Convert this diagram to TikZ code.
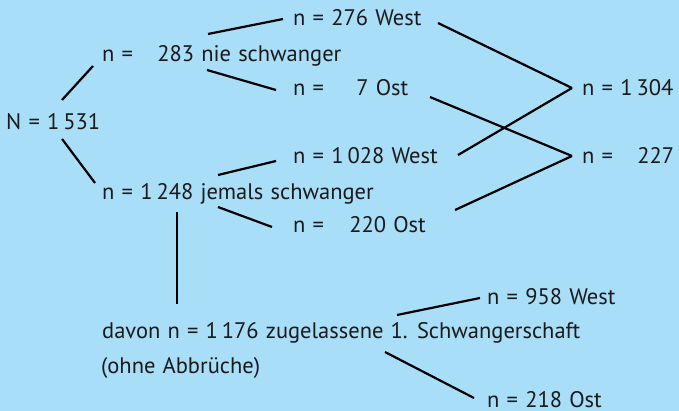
\documentclass[tikz,border=0pt]{standalone}
\usepackage{fontspec}
\setmainfont{PT Sans}[WordSpace=1.2]
\usepackage{tikz}

\definecolor{skyback}{RGB}{169,222,249}
\definecolor{inkdark}{RGB}{26,26,26}

\tikzset{
  lbl/.style={draw=none, inner sep=0pt, anchor=base west, text=inkdark,
    font=\fontsize{22.5}{26}\selectfont},
  tie/.style={line width=2.2pt, color=black}
}

\begin{document}
\begin{tikzpicture}[x=1pt, y=-1pt]

\fill[skyback] (0,0) rectangle (679,411);
\useasboundingbox (0,0) rectangle (679,411);

\node [lbl] (N) at (6,130) {N = 1\hspace{4pt}531};

\node [lbl] (n283) at (102,62) {n =\hspace{17pt} 283 nie schwanger};
\node [lbl] (n1248) at (102,200) {n = 1\hspace{4pt}248 jemals schwanger};

\node [lbl] (n276) at (293,26) {n = 276 West};
\node [lbl] (n7) at (293,96) {n =\hspace{25pt} 7 Ost};
\node [lbl] (n1028) at (293,164) {n = 1\hspace{4pt}028 West};
\node [lbl] (n220) at (293,233) {n =\hspace{18pt} 220 Ost};

\node [lbl] (n1304) at (582,96) {n = 1\hspace{4pt}304};
\node [lbl] (n227) at (582,164) {n =\hspace{17pt} 227};

\node [lbl] (n1176) at (102,338) {davon n = 1\hspace{4pt}176 zugelassene 1. Schwangerschaft};
\node [lbl] (n1176b) at (101,373) {(ohne Abbrüche)};
\node [lbl] (n958) at (487,304) {n = 958 West};
\node [lbl] (n218) at (487,407) {n = 218 Ost};

% first split
\draw[tie] ([shift={(56,-30)}]N.base west) -- ([shift={(-9,4)}]n283.base west);
\draw[tie] ([shift={(56,9)}]N.base west) -- ([shift={(-7,-17)}]n1248.base west);

% East / West
\draw[tie] ([shift={(106,-28)}]n283.base west) -- ([shift={(-10,-7)}]n276.base west);
\draw[tie] ([shift={(105,8)}]n283.base west) -- ([shift={(-17,-6)}]n7.base west);
\draw[tie] ([shift={(116,-25)}]n1248.base west) -- ([shift={(-17,-3)}]n1028.base west);
\draw[tie] ([shift={(116,7)}]n1248.base west) -- ([shift={(-21,-6)}]n220.base west);

% crossing to the totals
\draw[tie] ([shift={(145,-3)}]n276.base west) -- ([shift={(-10,-8)}]n1304.base west);
\draw[tie] ([shift={(165,-9)}]n1028.base west) -- ([shift={(-10,-8)}]n1304.base west);
\draw[tie] ([shift={(137,1)}]n7.base west) -- ([shift={(-10,-8)}]n227.base west);
\draw[tie] ([shift={(162,-23)}]n220.base west) -- ([shift={(-10,-8)}]n227.base west);

% first pregnancy
\draw[tie] ([shift={(75,12)}]n1248.base west) -- ([shift={(75,-34)}]n1176.base west);
\draw[tie] ([shift={(295,-23)}]n1176.base west) -- ([shift={(-7,-6)}]n958.base west);
\draw[tie] ([shift={(283,14)}]n1176.base west) -- ([shift={(-13,-9)}]n218.base west);

\end{tikzpicture}
\end{document}
